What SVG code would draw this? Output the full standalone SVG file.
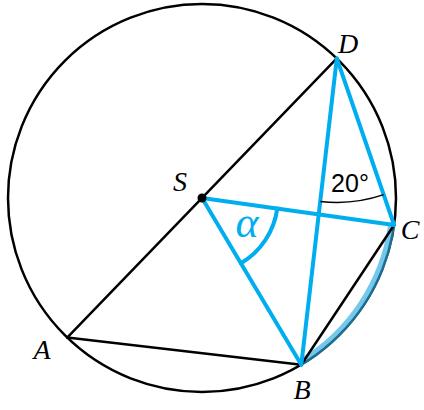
<svg xmlns="http://www.w3.org/2000/svg" width="424" height="410" viewBox="0 0 424 410">
<style>
.blk{fill:none;stroke:#000;stroke-width:2.5;stroke-linecap:round;stroke-linejoin:round}
.blu{fill:none;stroke:#00AEEF;stroke-width:4;stroke-linecap:round;stroke-linejoin:round}
.lbl{font-family:"Liberation Serif","DejaVu Serif",serif;font-style:italic;font-size:28px;fill:#000}
</style>
<rect width="424" height="410" fill="#fff"/>
<g id="circle"><circle cx="202" cy="198" r="194" class="blk"/></g>
<g id="connectors">
<path id="arcBC-highlight" d="M301.3,362 A191.5,191.5 0 0 0 391.5,226" fill="none" stroke="#29ABE2" stroke-width="7" stroke-opacity="0.65" stroke-linecap="round"/>
<line x1="67.2" y1="337.6" x2="336.8" y2="58.4" class="blk"/>
<line x1="67.2" y1="337.6" x2="301.3" y2="364.7" class="blk"/>
<line x1="301.3" y1="364.7" x2="394.1" y2="225" class="blk"/>
<line x1="202" y1="198" x2="394.1" y2="225" class="blu"/>
<line x1="202" y1="198" x2="301.3" y2="364.7" class="blu"/>
<line x1="336.8" y1="58.4" x2="301.3" y2="364.7" class="blu"/>
<line x1="336.8" y1="58.4" x2="394.1" y2="225" class="blu"/>
<path id="angle-alpha" d="M277.3,208.6 A76,76 0 0 1 240.9,263.3" class="blu"/>
<path id="angle-20" d="M320.3,201.4 A144,144 0 0 0 383.7,194.6" fill="none" stroke="#000" stroke-width="1.5"/>
</g>
<g id="S"><circle cx="202" cy="198" r="4.5" fill="#000"/><text class="lbl" x="180" y="191" text-anchor="middle">S</text></g>
<g id="D"><text class="lbl" x="348" y="53" text-anchor="middle">D</text></g>
<g id="C"><text class="lbl" x="410" y="239" text-anchor="middle">C</text></g>
<g id="B"><text class="lbl" x="302" y="399" text-anchor="middle">B</text></g>
<g id="A"><text class="lbl" x="42" y="359" text-anchor="middle">A</text></g>
<g id="alpha"><text x="247" y="237" text-anchor="middle" font-family="'Liberation Serif','DejaVu Serif',serif" font-style="italic" font-size="44" fill="#00AEEF">α</text></g>
<g id="angle20"><text x="350" y="192" text-anchor="middle" font-family="'Liberation Sans','DejaVu Sans',sans-serif" font-size="25" fill="#000">20°</text></g>
</svg>
